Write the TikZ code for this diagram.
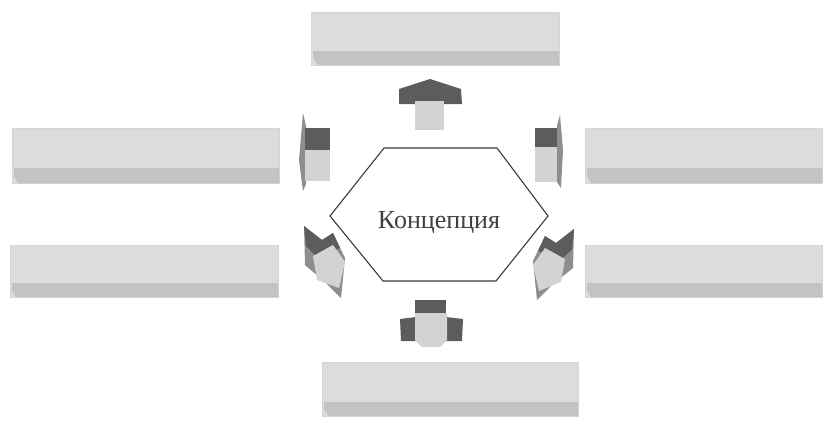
\documentclass[tikz,border=0pt]{standalone}
\usepackage{fontspec}
\setmainfont{Liberation Serif}
\definecolor{boxtop}{HTML}{DCDCDC}
\definecolor{boxfront}{HTML}{C3C3C3}
\definecolor{arrdark}{HTML}{5C5C5C}
\definecolor{arrmid}{HTML}{8E8E8E}
\definecolor{arrlight}{HTML}{D3D3D3}
\definecolor{hexline}{HTML}{3A3A3A}
\tikzset{
  boxface/.style={fill=boxtop, draw=boxtop!92!gray, line width=0.5pt},
  boxfr/.style={fill=boxfront},
  dk/.style={fill=arrdark},
  md/.style={fill=arrmid},
  lt/.style={fill=arrlight},
  hexa/.style={draw=hexline, line width=1.1pt, fill=white},
  lbl/.style={font=\fontsize{26}{30}\selectfont, text=black!75, inner sep=0pt}
}
\begin{document}
\begin{tikzpicture}[x=1pt,y=-1pt]
\useasboundingbox (0,0) rectangle (833,421);
% ---- boxes ----
% top
\path[boxface] (311,12) rectangle (559,65);
\path[boxfr] (313,51) -- (559,51) -- (559,65) -- (318,65) -- (313,58) -- cycle;
\node[inner sep=0pt] (btop) at (435,38) {};
% left upper
\path[boxface] (12,128) rectangle (279,183);
\path[boxfr] (14,168) -- (279,168) -- (279,183) -- (18,183) -- (14,176) -- cycle;
\node[inner sep=0pt] (blu) at (145,155) {};
% left lower
\path[boxface] (10,245) rectangle (278,297);
\path[boxfr] (12,283) -- (278,283) -- (278,297) -- (16,297) -- (12,290) -- cycle;
\node[inner sep=0pt] (bll) at (144,271) {};
% right upper
\path[boxface] (585,128) rectangle (822,183);
\path[boxfr] (587,168) -- (822,168) -- (822,183) -- (591,183) -- (587,176) -- cycle;
\node[inner sep=0pt] (bru) at (703,155) {};
% right lower
\path[boxface] (585,245) rectangle (822,297);
\path[boxfr] (587,283) -- (822,283) -- (822,297) -- (591,297) -- (587,290) -- cycle;
\node[inner sep=0pt] (brl) at (703,271) {};
% bottom
\path[boxface] (322,362) rectangle (578,416);
\path[boxfr] (324,402) -- (578,402) -- (578,416) -- (329,416) -- (324,409) -- cycle;
\node[inner sep=0pt] (bbot) at (450,389) {};
% ---- hexagon ----
\draw[hexa] (384,148) -- (497,148) -- (548,216) -- (496,281) -- (383,281) -- (330,216) -- cycle;
\node[lbl, anchor=base] (concept) at (439,228) {Концепция};
% ---- arrows ----
% up
\path[dk] (399,89) -- (430,79) -- (461,89) -- (462,104) -- (399,104) -- cycle;
\path[lt] (415,101) rectangle (444,130);
% down
\path[dk] (415,300) rectangle (446,314);
\path[dk] (400,319) -- (416,317) -- (416,341) -- (401,341) -- cycle;
\path[dk] (446,317) -- (463,319) -- (462,341) -- (446,341) -- cycle;
\path[lt] (415,313) -- (447,313) -- (447,340) -- (440,347) -- (422,347) -- (415,340) -- cycle;
% left upper
\path[md] (303,113) -- (306,126) -- (306,184) -- (303,191) -- (299,160) -- cycle;
\path[dk] (305,128) rectangle (330,150);
\path[lt] (305,150) rectangle (330,181);
% right upper
\path[md] (560,115) -- (563,150) -- (561,188) -- (557,182) -- (557,126) -- cycle;
\path[dk] (535,128) rectangle (557,147);
\path[lt] (535,147) rectangle (557,182);
% left lower
\path[md] (304,226) -- (322,240) -- (333,233) -- (345,258) -- (341,298) -- (326,283) -- (305,265) -- cycle;
\path[dk] (304,226) -- (322,240) -- (333,233) -- (340,248) -- (316,256) -- (306,246) -- cycle;
\path[lt] (313,256) -- (333,245) -- (345,262) -- (339,288) -- (317,280) -- cycle;
% right lower
\path[md] (574,229) -- (556,243) -- (545,236) -- (533,261) -- (537,300) -- (552,285) -- (573,268) -- cycle;
\path[dk] (574,229) -- (556,243) -- (545,236) -- (538,251) -- (562,259) -- (572,249) -- cycle;
\path[lt] (565,259) -- (545,248) -- (533,265) -- (539,291) -- (561,282) -- cycle;
\end{tikzpicture}
\end{document}
